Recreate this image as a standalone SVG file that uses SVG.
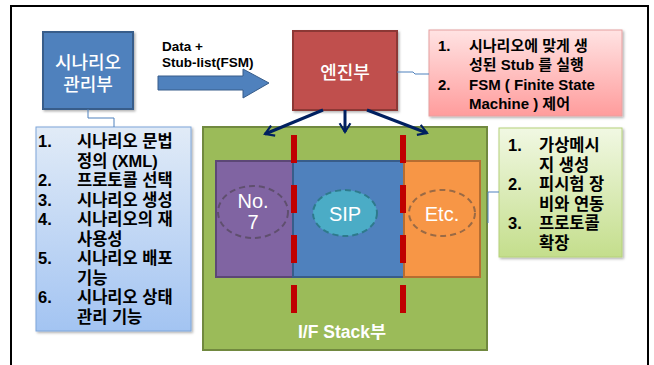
<svg xmlns="http://www.w3.org/2000/svg" width="654" height="365" viewBox="0 0 654 365">
<style>
.kb{font-family:"Liberation Sans","Noto Sans CJK KR",sans-serif;font-weight:700;font-size:16.5px;fill:#000}
.kr{font-family:"Liberation Sans","Noto Sans CJK KR",sans-serif;font-weight:700;font-size:15px;fill:#000}
.title{font-family:"Liberation Sans","Noto Sans CJK KR",sans-serif;font-weight:500;font-size:18px;fill:#fff;text-anchor:middle}
.lbl{font-family:"Liberation Sans","Noto Sans CJK KR",sans-serif;font-size:20px;fill:#fff;text-anchor:middle}
.conn{fill:none;stroke:#4F81BD;stroke-width:1}
.arr{fill:none;stroke:#002060;stroke-width:3}
.dash{stroke:#C00000;stroke-width:6;stroke-dasharray:28 22}
</style>
<defs>
<linearGradient id="gBlue" x1="0" y1="0" x2="0" y2="1"><stop offset="0" stop-color="#E1EBF7"/><stop offset="1" stop-color="#A3C4F2"/></linearGradient>
<linearGradient id="gRed" x1="0" y1="0" x2="0" y2="1"><stop offset="0" stop-color="#FFE3E3"/><stop offset="1" stop-color="#FF9C9C"/></linearGradient>
<linearGradient id="gGreen" x1="0" y1="0" x2="0" y2="1"><stop offset="0" stop-color="#F1F8E3"/><stop offset="1" stop-color="#C4DE8C"/></linearGradient>
<filter id="sh" x="-10%" y="-10%" width="130%" height="130%"><feDropShadow dx="1.5" dy="1.5" stdDeviation="1.2" flood-color="#000" flood-opacity="0.3"/></filter>
<marker id="ah" viewBox="0 0 10 10" refX="8" refY="5" markerWidth="4.5" markerHeight="4.5" orient="auto" markerUnits="strokeWidth"><polyline points="1.5,1 8,5 1.5,9" fill="none" stroke="#002060" stroke-width="1.6"/></marker>
</defs>

<rect x="11" y="6" width="637" height="380" fill="#fff" stroke="#000" stroke-width="2"/>

<g id="scenario-mgr">
<rect x="43" y="32" width="90" height="77" fill="#4F81BD" stroke="#385D8A" stroke-width="2" filter="url(#sh)"/>
<text class="title"><tspan x="88" y="69">시나리오</tspan><tspan x="88" y="91">관리부</tspan></text>
</g>

<g id="engine">
<rect x="293" y="31" width="104" height="79" fill="#C0504D" stroke="#8C3836" stroke-width="2" filter="url(#sh)"/>
<text class="title" x="345" y="79">엔진부</text>
</g>

<g id="engine-note">
<rect x="429" y="30" width="193" height="86" fill="url(#gRed)" stroke="#E6A0A0" stroke-width="1" filter="url(#sh)"/>
<text class="kr"><tspan x="438" y="50.5">1.</tspan><tspan x="469" y="50.5">시나리오에 맞게 생</tspan><tspan x="469" y="70">성된 Stub 를 실행</tspan><tspan x="438" y="89.5">2.</tspan><tspan x="469" y="89.5">FSM ( Finite State</tspan><tspan x="469" y="109">Machine ) 제어</tspan></text>
</g>

<g id="scenario-list">
<rect x="36" y="127" width="155" height="204" fill="url(#gBlue)" stroke="#7EA6D9" stroke-width="1" filter="url(#sh)"/>
<text class="kb"><tspan x="38" y="147">1.</tspan><tspan x="77" y="147">시나리오 문법</tspan><tspan x="77" y="166.5">정의 (XML)</tspan><tspan x="38" y="186">2.</tspan><tspan x="77" y="186">프로토콜 선택</tspan><tspan x="38" y="205.5">3.</tspan><tspan x="77" y="205.5">시나리오 생성</tspan><tspan x="38" y="225">4.</tspan><tspan x="77" y="225">시나리오의 재</tspan><tspan x="77" y="244.5">사용성</tspan><tspan x="38" y="264">5.</tspan><tspan x="77" y="264">시나리오 배포</tspan><tspan x="77" y="283.5">기능</tspan><tspan x="38" y="303">6.</tspan><tspan x="77" y="303">시나리오 상태</tspan><tspan x="77" y="322.5">관리 기능</tspan></text>
</g>

<g id="stack">
<rect x="203" y="127" width="284" height="223" fill="#9BBB59" stroke="#71893F" stroke-width="2"/>
<rect x="216" y="161" width="77" height="116" fill="#8064A2" stroke="#5C4776" stroke-width="2"/>
<rect x="293" y="161" width="111" height="116" fill="#4F81BD" stroke="#385D8A" stroke-width="2"/>
<rect x="404" y="161" width="76" height="116" fill="#F79646" stroke="#B66D31" stroke-width="2"/>
<ellipse cx="253" cy="212" rx="35" ry="26" fill="none" stroke="#5F4F6E" stroke-width="2" stroke-dasharray="6 4"/>
<ellipse cx="345" cy="213" rx="32" ry="23" fill="#4BACC6" stroke="#2E7A8C" stroke-width="2" stroke-dasharray="6 4"/>
<ellipse cx="442" cy="213" rx="33" ry="23" fill="none" stroke="#9A6A45" stroke-width="2" stroke-dasharray="6 4"/>
<text class="lbl" font-size="15.5"><tspan x="253" y="208">No.</tspan><tspan x="253" y="228.5">7</tspan></text>
<text class="lbl" x="345" y="221">SIP</text>
<text class="lbl" x="442" y="221">Etc.</text>
<line class="dash" x1="294" y1="135" x2="294" y2="315"/>
<line class="dash" x1="403" y1="135" x2="403" y2="315"/>
<text x="342" y="338" text-anchor="middle" font-family="Liberation Sans, Noto Sans CJK KR, sans-serif" font-weight="700" font-size="17.5" fill="#fff">I/F Stack부</text>
</g>

<g id="stack-note">
<rect x="499" y="128" width="123" height="129" fill="url(#gGreen)" stroke="#B5D17A" stroke-width="1" filter="url(#sh)"/>
<text class="kb"><tspan x="508" y="151">1.</tspan><tspan x="539" y="151">가상메시</tspan><tspan x="539" y="170.5">지 생성</tspan><tspan x="508" y="190">2.</tspan><tspan x="539" y="190">피시험 장</tspan><tspan x="539" y="209.5">비와 연동</tspan><tspan x="508" y="229">3.</tspan><tspan x="539" y="229">프로토콜</tspan><tspan x="539" y="248.5">확장</tspan></text>
</g>

<g id="connectors">
<path class="conn" d="M88,109 V118 H114 V127"/>
<path class="conn" d="M397,72 H413 L415,74 H429"/>
<path class="conn" d="M499,192 H488 V223"/>
<path class="arr" d="M323,110 L265,134" marker-end="url(#ah)"/>
<path class="arr" d="M345,110 V132" marker-end="url(#ah)"/>
<path class="arr" d="M367,110 L427,133" marker-end="url(#ah)"/>
<path d="M158,76 H243 V69 L269,83 L243,98 V90 H158 Z" fill="#4F81BD" stroke="#385D8A" stroke-width="1"/>
<text font-family="Liberation Sans, sans-serif" font-weight="700" font-size="13.5"><tspan x="162" y="51">Data +</tspan><tspan x="162" y="67">Stub-list(FSM)</tspan></text>
</g>
</svg>
